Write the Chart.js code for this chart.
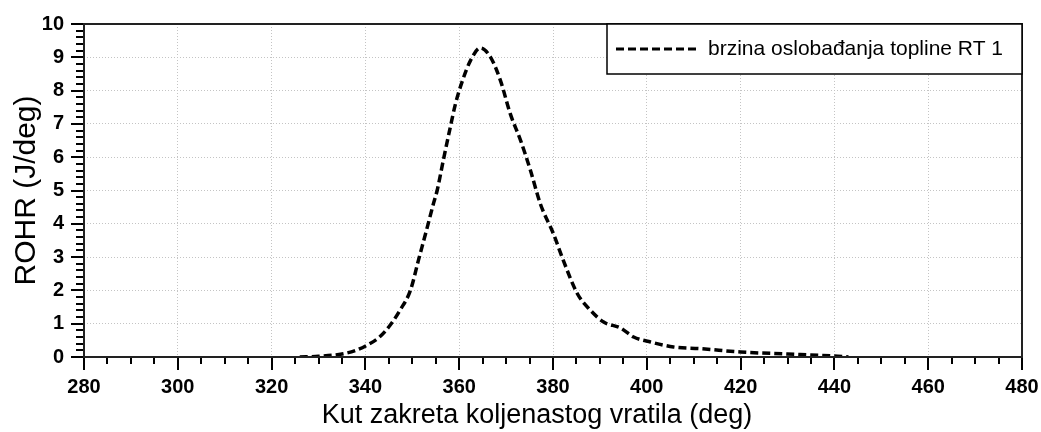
<!DOCTYPE html>
<html>
<head>
<meta charset="utf-8">
<script src="https://cdn.jsdelivr.net/npm/chart.js@4.4.1/dist/chart.umd.min.js"></script>
<style>
  html, body { margin: 0; padding: 0; background: #fff; }
  #wrap { width: 1041px; height: 432px; }
</style>
</head>
<body>
<div id="wrap"><canvas id="rohr-chart" width="1041" height="432"></canvas></div>
<script>
// crank angle (deg) and rate of heat release (J/deg)
const angle = [326, 330, 335, 338, 340.4, 343, 345.3, 347.4, 349.6, 351.3, 353.2, 354.5, 355.3,
  356.6, 358.1, 359.2, 360.7, 362.4, 364.5, 366.7, 368.8, 370.9, 373.1, 375.2, 377.3, 380.1,
  382.2, 385.2, 388, 390.8, 394.4, 397.2, 400.8, 405.7, 411.5, 420, 430, 440, 443];
const rohr = [0, 0.02, 0.09, 0.2, 0.36, 0.6, 0.96, 1.41, 2.0, 2.9, 3.9, 4.6, 5.0,
  5.9, 6.9, 7.6, 8.3, 8.9, 9.28, 9.0, 8.3, 7.3, 6.5, 5.6, 4.6, 3.7,
  2.9, 1.9, 1.4, 1.05, 0.87, 0.6, 0.45, 0.3, 0.25, 0.15, 0.09, 0.03, 0];
const xTicks = [280, 300, 320, 340, 360, 380, 400, 420, 440, 460, 480];
const yTicks = [0, 1, 2, 3, 4, 5, 6, 7, 8, 9, 10];
const seriesLabel = 'brzina oslobađanja topline RT 1';
const xTitle = 'Kut zakreta koljenastog vratila (deg)';

const FONT = 'Arial, "Liberation Sans", sans-serif';
const DASH = [8, 4];

// frame, outward tick marks, x title and the boxed legend
const framePlugin = {
  id: 'frame',
  afterDraw(chart) {
    const { ctx, chartArea: a, scales: { x, y } } = chart;
    ctx.save();
    ctx.strokeStyle = '#000';
    ctx.lineWidth = 2;
    ctx.beginPath();
    for (let v = xTicks[0]; v <= xTicks[xTicks.length - 1]; v += 5) {
      const px = Math.round(x.getPixelForValue(v));
      const len = v % 20 === 0 ? 13 : 7;
      ctx.moveTo(px, a.bottom);
      ctx.lineTo(px, a.bottom + len);
    }
    for (let i = 0; i <= 50; i++) {
      const v = i * 0.2;
      const py = Math.round(y.getPixelForValue(v));
      const len = i % 5 === 0 ? 13 : 8;
      ctx.moveTo(a.left, py);
      ctx.lineTo(a.left - len, py);
    }
    ctx.stroke();
    ctx.strokeStyle = '#222';
    ctx.strokeRect(a.left, a.top, a.right - a.left, a.bottom - a.top);

    // x axis title sits a bit left of the plot centre in the original
    ctx.fillStyle = '#000';
    ctx.font = '27px ' + FONT;
    ctx.textAlign = 'center';
    ctx.textBaseline = 'middle';
    ctx.fillText(xTitle, 537, 416);

    // legend box in the top right corner
    const bx = 607, by = a.top, bw = a.right - bx, bh = 50;
    ctx.fillStyle = '#fff';
    ctx.fillRect(bx, by, bw, bh);
    ctx.lineWidth = 1.5;
    ctx.strokeStyle = '#000';
    ctx.strokeRect(bx, by, bw, bh);
    const ds = chart.data.datasets[0];
    ctx.lineWidth = 3;
    ctx.setLineDash(DASH);
    ctx.beginPath();
    ctx.moveTo(616, by + 25);
    ctx.lineTo(698, by + 25);
    ctx.stroke();
    ctx.setLineDash([]);
    ctx.fillStyle = '#000';
    ctx.font = '21px ' + FONT;
    ctx.textAlign = 'left';
    ctx.fillText(ds.label, 708, by + 25);
    ctx.restore();
  }
};

const gridOpts = { color: '#c4c4c4', lineWidth: 1, drawTicks: false };
// drop the label overhang padding so layout.padding alone sets the plot box
const noOverhang = (s) => { s.paddingLeft = s.paddingRight = s.paddingTop = s.paddingBottom = 0; };
const tickFont = { family: FONT, size: 20, weight: 'bold' };

new Chart(document.getElementById('rohr-chart'), {
  type: 'line',
  data: {
    datasets: [{
      label: seriesLabel,
      data: angle.map((a, i) => ({ x: a, y: rohr[i] })),
      borderColor: '#000',
      borderWidth: 3.5,
      borderDash: DASH,
      pointRadius: 0,
      cubicInterpolationMode: 'monotone',
      fill: false
    }]
  },
  options: {
    responsive: false,
    animation: false,
    layout: { padding: { left: 0, top: 24, right: 19, bottom: 0 } },
    plugins: { legend: { display: false }, tooltip: { enabled: false } },
    scales: {
      x: {
        type: 'linear',
        min: 280, max: 480,
        afterBuildTicks: (s) => { s.ticks = xTicks.map(v => ({ value: v })); },
        afterFit: (s) => { s.height = 75; noOverhang(s); },
        grid: gridOpts,
        border: { display: false, dash: [1, 2] },
        ticks: { color: '#000', padding: 18, font: tickFont }
      },
      y: {
        min: 0, max: 10,
        afterBuildTicks: (s) => { s.ticks = yTicks.map(v => ({ value: v })); },
        afterFit: (s) => { s.width = 84; noOverhang(s); },
        grid: gridOpts,
        border: { display: false, dash: [1, 2] },
        ticks: { color: '#000', padding: 20, font: tickFont },
        title: {
          display: true,
          text: 'ROHR (J/deg)',
          color: '#000',
          padding: { top: 9 },
          font: { family: FONT, size: 30 }
        }
      }
    }
  },
  plugins: [framePlugin]
});
</script>
</body>
</html>
